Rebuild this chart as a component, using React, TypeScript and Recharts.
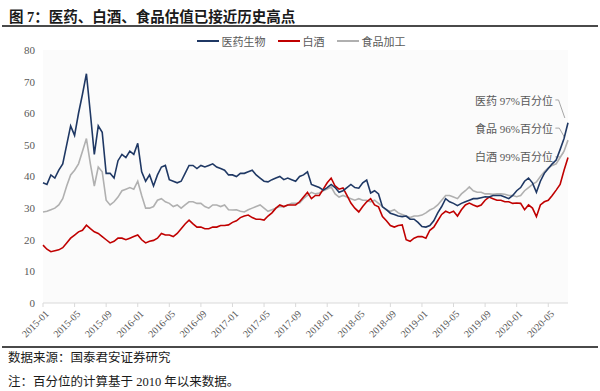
import { LineChart, Line, XAxis, YAxis, CartesianGrid, ReferenceLine } from 'recharts';

// half-month steps starting 2015-01
const pharmaVals = [
  38, 37.5, 40.5, 39.5, 42, 44, 50, 56, 53, 60,
  66, 72.5, 60, 47, 56, 54, 41, 41, 39.5, 45,
  47, 46, 48, 47, 50.5, 41.5, 38.5, 40.5, 37, 40.5,
  43, 43.5, 39, 38.5, 38, 38.5, 41, 43.5, 43.5, 42.5,
  43.5, 43, 43.5, 44, 43, 42.5, 42, 40.5, 40.5, 40,
  41, 41, 41.5, 42, 40.5, 39.5, 38.5, 38.3, 39, 39.5,
  40, 39, 39.5, 39, 38.5, 40, 40.5, 41.5, 37.5, 37,
  36.5, 35.7, 36.5, 37.5, 36.5, 35, 35.5, 36.5, 37.5, 36.5,
  36.3, 38, 38.9, 34.8, 35.5, 34.5, 30.4, 29.5, 28.4, 28,
  27.5, 27.3, 27.5, 26.5, 26.5, 25.5, 24.2, 24, 24.5, 26,
  28.5, 30.5, 33, 32, 31.5, 30.8, 31.5, 32, 32.5, 33,
  33, 33.3, 33.6, 33.5, 34, 34, 34, 33.5, 33, 34,
  35.5, 36.5, 38.5, 39.5, 38, 35, 38.5, 41, 42.5, 44,
  45.2, 48.5, 52, 57,
];

const liquorVals = [
  18.3, 17, 16.2, 16.5, 16.8, 17.5, 19, 20.5, 21.5, 22.5,
  23, 24.6, 23.5, 22.5, 22, 21, 20, 19, 19.5, 20.5,
  20.5, 20, 20.5, 21, 21.5, 20, 19, 19.5, 19.8, 20.5,
  22, 21.5, 21.5, 21, 22, 23.5, 25, 26.2, 25, 24,
  24, 23.5, 23.5, 24, 24, 24.5, 24.5, 24.7, 25.5, 26,
  27, 27.5, 27.8, 27, 26.5, 26.5, 26.2, 27.5, 28.5, 30,
  31, 30.5, 31, 31, 31, 32, 33.5, 35, 33, 34,
  34, 36, 38, 39.5, 37, 36, 36.4, 34, 31.6, 30,
  28.8, 30.5, 32, 33, 31, 30.4, 27.3, 26, 24.5, 24,
  24.5, 24.7, 20, 19.5, 20.5, 21, 21, 20.5, 23, 24,
  26, 28, 29, 28.5, 29, 27.5, 29.5, 31, 31.6, 31,
  30.5, 31, 32.5, 33.5, 33, 32.5, 32.5, 32, 32, 31.5,
  31.6, 31.5, 29.5, 31, 30, 27.3, 31, 32, 32.5, 34,
  35.7, 37.5, 42, 46,
];

const foodVals = [
  28.8, 29, 29.5, 30, 31, 33, 37, 40.5, 42, 44,
  48, 52, 44, 37, 43, 41.5, 32.5, 31, 32, 33.5,
  35.5, 36, 36.5, 36, 38.5, 34, 30, 30, 30.5, 32.5,
  33, 32, 31.5, 30.5, 31, 30, 31, 32, 32, 31.5,
  31.5, 30.5, 30, 31, 31, 30.5, 31, 29.5, 29.4, 29.5,
  29, 28.8, 29.5, 30, 30.5, 31, 30, 29, 29.5, 30,
  30.5, 30.4, 31, 31.5, 31.5, 31.6, 33, 34, 35, 34.5,
  34.8, 35.5, 36, 36.7, 34.5, 33.5, 34, 33.5, 33, 32.5,
  33, 32.5, 32.5, 32, 32.5, 31.5, 30.5, 29.4, 29, 29.5,
  28.5, 28, 27.5, 27, 27.5, 27.5, 27.8, 28.5, 29.4, 30,
  31, 32.5, 34, 34, 33.5, 33, 34.5, 35.5, 36.7, 35.5,
  35, 35, 34.5, 34.5, 34.4, 34.5, 34.5, 34.4, 34, 34,
  33.6, 34, 35.5, 36.5, 37.5, 38.3, 40, 41.5, 42.7, 43.5,
  44, 46, 48, 51.5,
];

const xTicks = [0, 4, 8, 12, 16, 20, 24, 28, 32, 36, 40, 44, 48, 52, 56, 60, 64];
const xLabels = [
  '2015-01', '2015-05', '2015-09', '2016-01', '2016-05', '2016-09', '2017-01', '2017-05', '2017-09',
  '2018-01', '2018-05', '2018-09', '2019-01', '2019-05', '2019-09', '2020-01', '2020-05',
];
const yTicks = [0, 10, 20, 30, 40, 50, 60, 70, 80];

const seriesNames = ['医药生物', '白酒', '食品加工'];
const notes = ['医药 97%百分位', '食品 96%百分位', '白酒 99%百分位'];

const data = pharmaVals.map((v, i) => ({
  t: i / 2,
  pharma: v,
  liquor: liquorVals[i],
  food: foodVals[i],
}));

const BLUE = '#1f3864';
const RED = '#c00000';
const GRAY = '#b0b0b0';
const TEXT = '#595959';
const SERIF = "'Liberation Serif', 'Noto Sans CJK SC', serif";
const CJK = "'Noto Sans CJK SC', sans-serif";

const XTick = (props: any) => {
  const { x, y, payload } = props;
  const tx = x + 4;
  const ty = y + 3;
  return (
    <text
      x={tx}
      y={ty}
      transform={`rotate(-45, ${tx}, ${ty})`}
      textAnchor="end"
      dominantBaseline="central"
      fontSize={10}
      fill={TEXT}
      fontFamily={SERIF}
    >
      {xLabels[payload.index]}
    </text>
  );
};

const legendItems = [
  { name: seriesNames[0], color: BLUE },
  { name: seriesNames[1], color: RED },
  { name: seriesNames[2], color: GRAY },
];

export default function App() {
  return (
    <div
      style={{
        position: 'absolute',
        left: 0,
        top: 0,
        width: 600,
        height: 391,
        background: '#fff',
        overflow: 'hidden',
      }}
    >
      <div
        style={{
          position: 'absolute',
          left: 9,
          top: 5,
          fontSize: 14.5,
          fontWeight: 'bold',
          fontFamily: SERIF,
          color: '#1a1a1a',
          whiteSpace: 'nowrap',
        }}
      >
        图 7：医药、白酒、食品估值已接近历史高点
      </div>
      <div style={{ position: 'absolute', left: 2, top: 25, width: 596, height: 2, background: '#4a4a4a' }} />

      <div
        style={{
          position: 'absolute',
          left: 0,
          top: 33,
          width: 602,
          display: 'flex',
          justifyContent: 'center',
          alignItems: 'center',
          fontSize: 11,
          fontFamily: CJK,
          color: TEXT,
        }}
      >
        {legendItems.map((it, i) => (
          <div key={it.name} style={{ display: 'flex', alignItems: 'center', marginLeft: i === 0 ? 0 : 12 }}>
            <div style={{ width: 22, height: 2, background: it.color, marginRight: 3 }} />
            <span>{it.name}</span>
          </div>
        ))}
      </div>

      <LineChart
        width={600}
        height={391}
        data={data}
        margin={{ top: 50, right: 32, bottom: 48, left: 0 }}
        style={{ position: 'absolute', left: 0, top: 0 }}
      >
        <CartesianGrid horizontal={false} vertical={false} fill="#fbfbfb" />
        <XAxis
          dataKey="t"
          type="number"
          domain={[0, 66.5]}
          ticks={xTicks}
          interval={0}
          height={40}
          stroke="#d9d9d9"
          tickSize={4}
          tick={<XTick />}
        />
        <YAxis
          type="number"
          domain={[0, 80]}
          ticks={yTicks}
          width={43}
          axisLine={false}
          tickLine={false}
          tick={{ fontSize: 11, fill: TEXT, fontFamily: SERIF }}
        />
        <ReferenceLine segment={[{ x: 64.9, y: 64.2 }, { x: 65.3, y: 64.2 }]} stroke="#a6a6a6" />
        <ReferenceLine segment={[{ x: 65.3, y: 64.2 }, { x: 66.1, y: 58.5 }]} stroke="#a6a6a6" />
        <ReferenceLine segment={[{ x: 64.9, y: 55.3 }, { x: 65.4, y: 55.3 }]} stroke="#a6a6a6" />
        <ReferenceLine segment={[{ x: 65.4, y: 55.3 }, { x: 66.1, y: 52.2 }]} stroke="#a6a6a6" />
        <ReferenceLine segment={[{ x: 64.9, y: 46.2 }, { x: 65.5, y: 46.2 }]} stroke="#a6a6a6" />
        <ReferenceLine segment={[{ x: 65.5, y: 46.2 }, { x: 65.9, y: 47.3 }]} stroke="#a6a6a6" />
        <Line type="linear" dataKey="food" stroke={GRAY} strokeWidth={1.6} dot={false} isAnimationActive={false} />
        <Line type="linear" dataKey="liquor" stroke={RED} strokeWidth={1.6} dot={false} isAnimationActive={false} />
        <Line type="linear" dataKey="pharma" stroke={BLUE} strokeWidth={1.6} dot={false} isAnimationActive={false} />
      </LineChart>

      {notes.map((n, i) => (
        <div
          key={n}
          style={{
            position: 'absolute',
            right: 600 - 553,
            top: 93 + i * 28,
            fontSize: 11,
            fontFamily: SERIF,
            color: TEXT,
            whiteSpace: 'nowrap',
            lineHeight: '16px',
          }}
        >
          {n}
        </div>
      ))}

      <div style={{ position: 'absolute', left: 2, top: 346, width: 596, height: 2, background: '#4a4a4a' }} />
      <div
        style={{
          position: 'absolute',
          left: 8,
          top: 350,
          fontSize: 12.5,
          fontFamily: SERIF,
          color: '#1a1a1a',
          lineHeight: '17px',
          whiteSpace: 'nowrap',
        }}
      >
        <div>数据来源：国泰君安证券研究</div>
        <div style={{ marginTop: 7 }}>注：百分位的计算基于 2010 年以来数据。</div>
      </div>
    </div>
  );
}
